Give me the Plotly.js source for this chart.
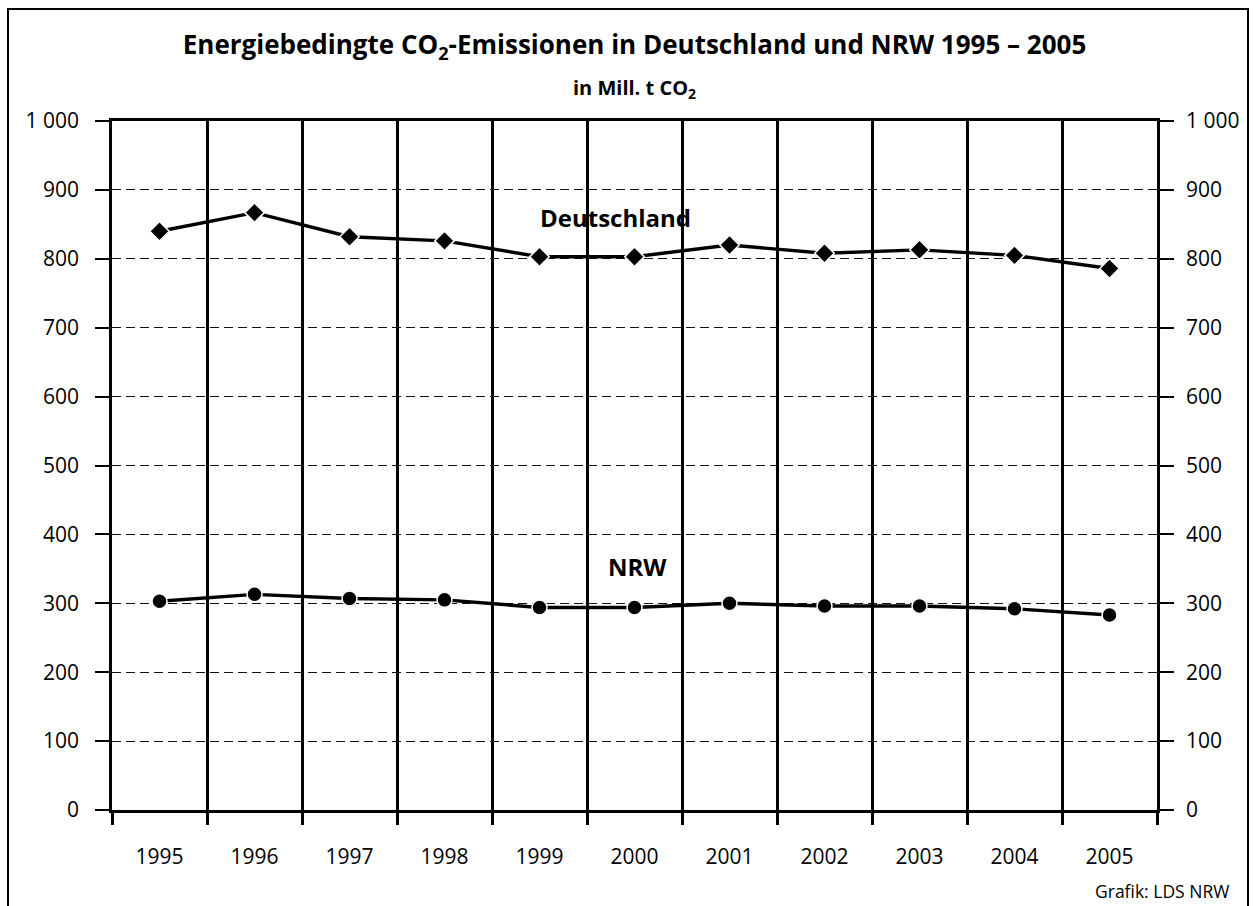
<!DOCTYPE html>
<html>
<head>
<meta charset="utf-8">
<script src="https://cdn.plot.ly/plotly-3.0.1.min.js"></script>
<style>
  html, body { margin: 0; padding: 0; background: #fff; }
  #wrap { position: relative; width: 1254px; height: 906px; overflow: hidden; }
  #chart { width: 1254px; height: 906px; }
  #frame { position: absolute; left: 7px; top: 8px; width: 1238px; height: 940px;
           border: 2px solid #000; pointer-events: none; }
</style>
</head>
<body>
<div id="wrap">
  <div id="chart"></div>
  <div id="frame"></div>
</div>
<script>
const years = ["1995","1996","1997","1998","1999","2000","2001","2002","2003","2004","2005"];
const deutschland = [840, 867, 832, 826, 803, 803, 820, 808, 813, 805, 786];
const nrw = [303, 313, 307, 305, 294, 294, 300, 296, 296, 292, 283];
const yTickVals = [0, 100, 200, 300, 400, 500, 600, 700, 800, 900, 1000];
const yTickText = ["0", "100", "200", "300", "400", "500", "600", "700", "800", "900", "1 000"];

const FONT = "Open Sans, Noto Sans, DejaVu Sans, sans-serif";

const traces = [
  {
    x: years, y: deutschland, type: "scatter", mode: "lines+markers",
    name: "Deutschland",
    line: { color: "#000", width: 3.4 },
    marker: { symbol: "diamond", size: 15, color: "#000", line: { color: "#fff", width: 1.5 } },
    hoverinfo: "x+y"
  },
  {
    x: years, y: nrw, type: "scatter", mode: "lines+markers",
    name: "NRW", yaxis: "y2",
    line: { color: "#000", width: 3.4 },
    marker: { symbol: "circle", size: 15, color: "#000", line: { color: "#fff", width: 1.5 } },
    hoverinfo: "x+y"
  }
];

const layout = {
  width: 1254, height: 906,
  margin: { l: 112, r: 97, t: 121, b: 96 },
  paper_bgcolor: "#fff", plot_bgcolor: "#fff",
  showlegend: false,
  font: { family: FONT, color: "#000", size: 21 },
  title: {
    text: "<b>Energiebedingte CO<sub>2</sub>-Emissionen in Deutschland und NRW 1995 – 2005</b>",
    font: { family: FONT, size: 26, color: "#000" },
    x: 0.5, xanchor: "center", xref: "paper",
    y: 1 - 45 / 906, yanchor: "middle"
  },
  xaxis: {
    type: "category",
    range: [-0.5, 10.5],
    tickson: "boundaries",
    ticks: "outside", ticklen: 12, tickwidth: 2.5, tickcolor: "#000",
    showgrid: true, gridcolor: "#000", gridwidth: 2.5,
    showline: true, linecolor: "#000", linewidth: 2.5, mirror: true,
    tickfont: { family: FONT, size: 21, color: "#000" },
    ticklabelstandoff: 26,
    zeroline: false, fixedrange: true
  },
  yaxis: {
    range: [0, 1000],
    tickvals: yTickVals, ticktext: yTickText,
    ticks: "outside", ticklen: 14, tickwidth: 2, tickcolor: "#000",
    showgrid: true, gridcolor: "#111", gridwidth: 1.3, griddash: "9px,5px",
    showline: true, linecolor: "#000", linewidth: 2.5, mirror: "ticks",
    tickfont: { family: FONT, size: 21, color: "#000" },
    ticklabelstandoff: 12,
    zeroline: false, fixedrange: true
  },
  yaxis2: {
    range: [0, 1000], overlaying: "y", side: "right",
    tickvals: yTickVals, ticktext: yTickText,
    ticks: "", showgrid: false, showline: false, zeroline: false,
    tickfont: { family: FONT, size: 21, color: "#000" },
    ticklabelstandoff: 28,
    fixedrange: true
  },
  annotations: [
    { text: "<b>in Mill. t CO<sub>2</sub></b>", xref: "paper", yref: "paper",
      x: (634 - 112) / 1045, y: (810 - 88) / 689, xanchor: "center", yanchor: "middle",
      showarrow: false, font: { family: FONT, size: 20, color: "#000" } },
    { text: "<b>Deutschland</b>", xref: "x", yref: "y", x: 4.8, y: 860,
      xanchor: "center", yanchor: "middle", showarrow: false,
      font: { family: FONT, size: 24, color: "#000" } },
    { text: "<b>NRW</b>", xref: "x", yref: "y", x: 5.03, y: 353,
      xanchor: "center", yanchor: "middle", showarrow: false,
      font: { family: FONT, size: 24, color: "#000" } },
    { text: "Grafik: LDS NRW", xref: "paper", yref: "paper",
      x: (1231 - 112) / 1045, y: (810 - 891) / 689, xanchor: "right", yanchor: "middle",
      showarrow: false, font: { family: FONT, size: 17.5, color: "#000" } }
  ]
};

Plotly.newPlot("chart", traces, layout, { displayModeBar: false });
</script>
</body>
</html>
